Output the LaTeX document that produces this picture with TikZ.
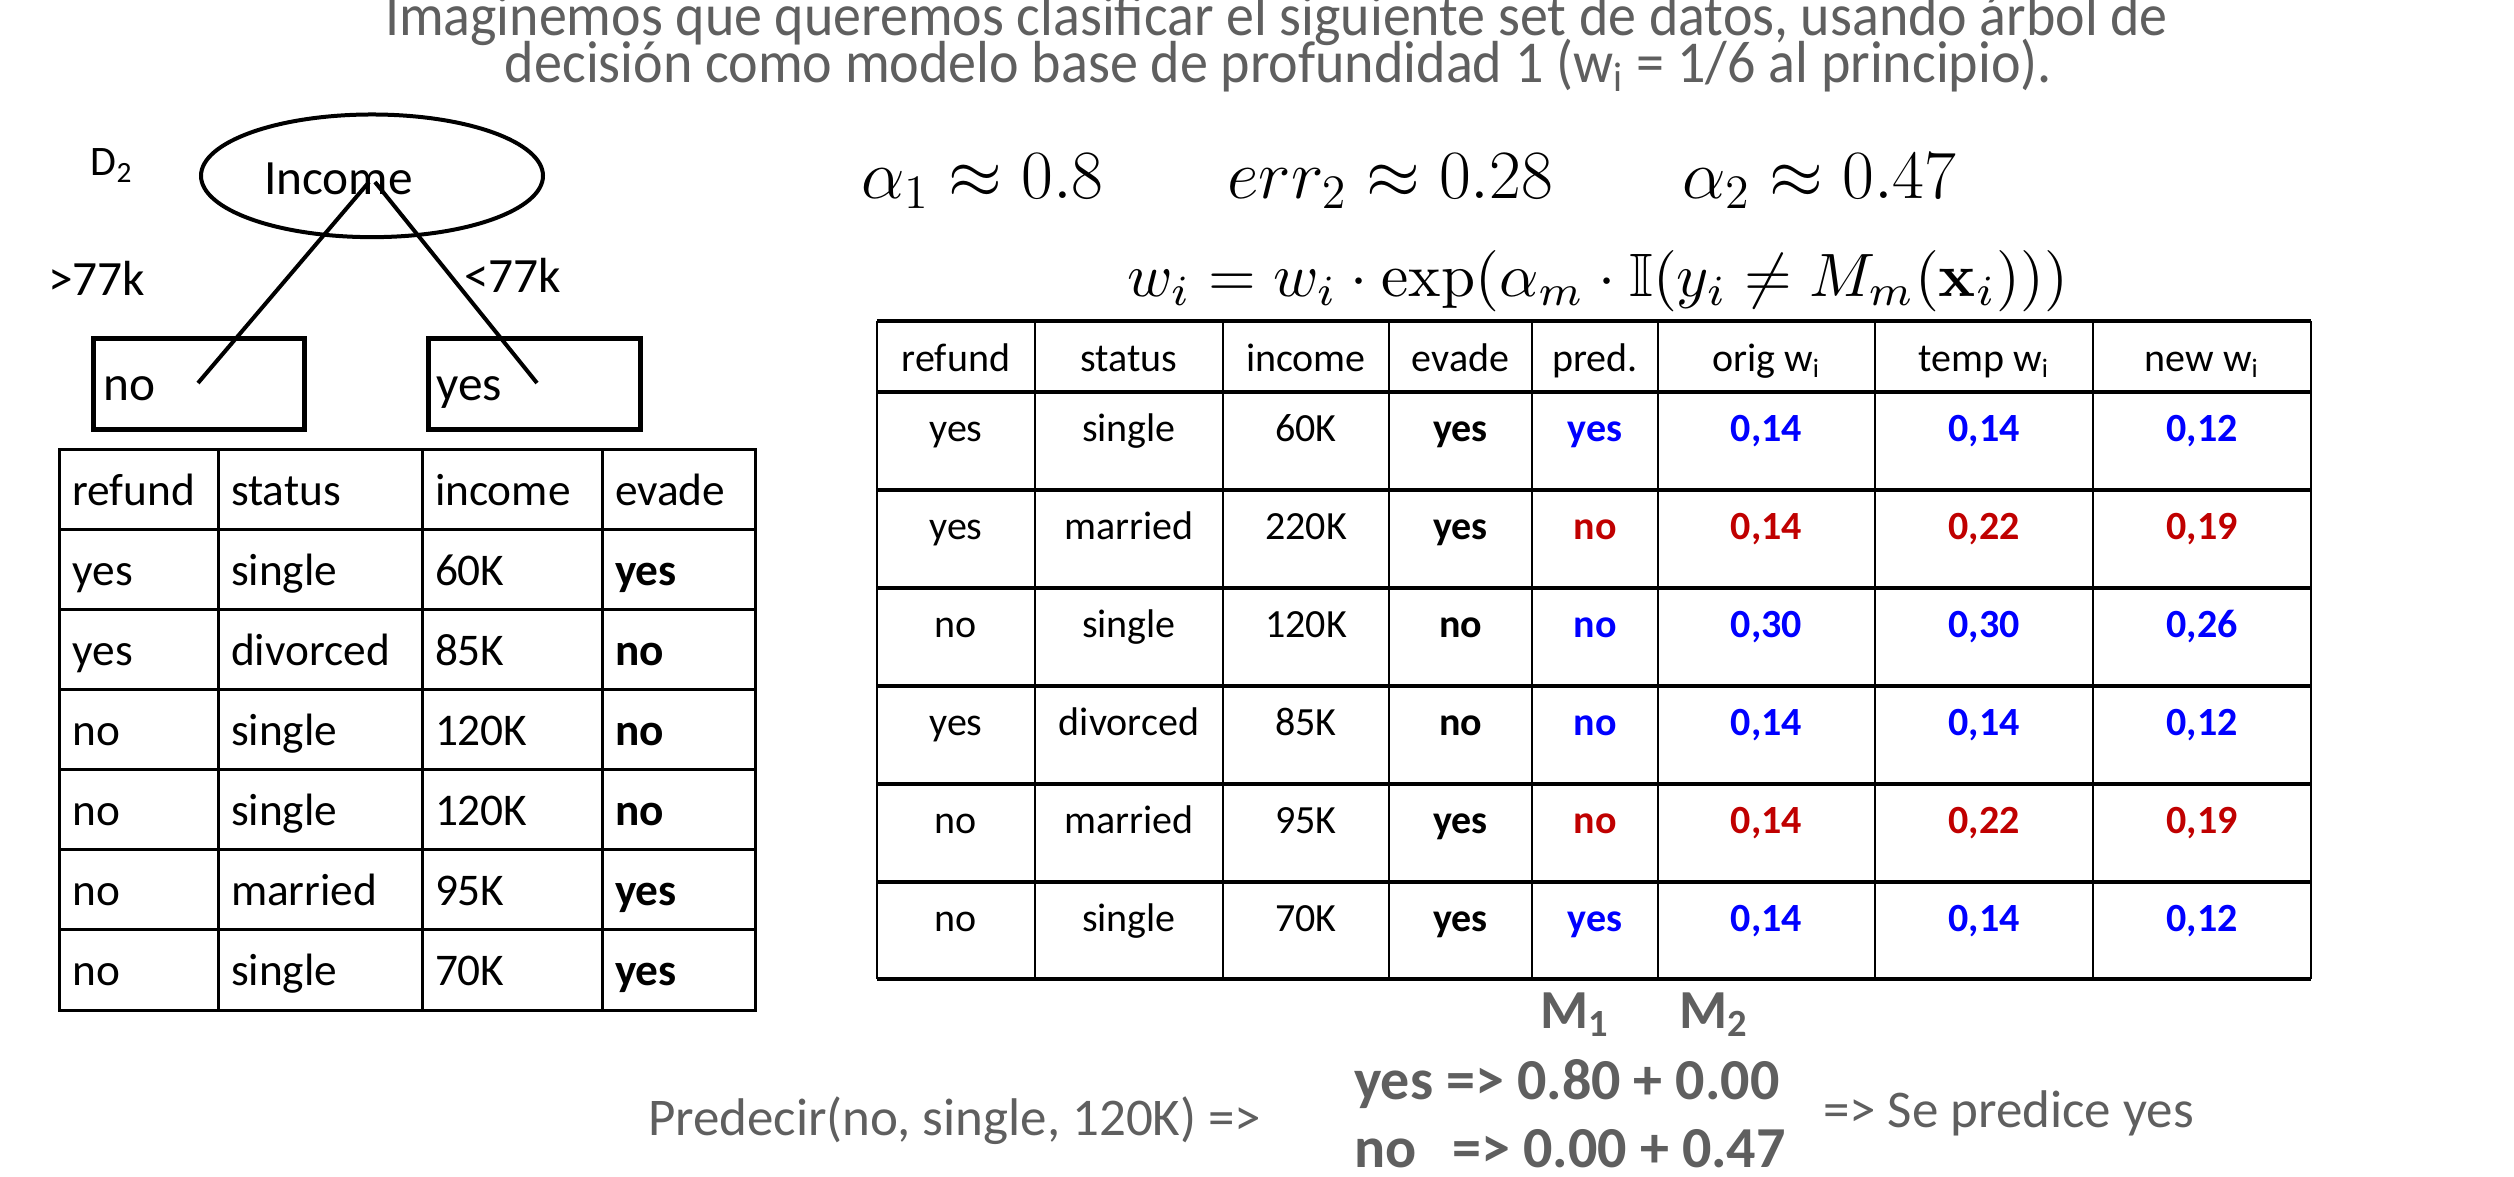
\RequirePackage{fix-cm}
\documentclass[tikz,border=0pt]{standalone}
\usepackage{amsmath,amssymb}
\usepackage[no-math]{fontspec}
\setmainfont{Carlito}
\usetikzlibrary{shapes.geometric}
\definecolor{txtgray}{RGB}{95,95,95}
\definecolor{wblue}{RGB}{0,0,255}
\definecolor{wred}{RGB}{192,0,0}
\newcommand\setfs[1]{\fontsize{#1}{#1}\selectfont}
\newcommand\bluebf[1]{\textcolor{wblue}{\textbf{#1}}}
\newcommand\redbf[1]{\textcolor{wred}{\textbf{#1}}}
\newcommand\wsub{w\textsubscript{i}}
% left table row: index, 4 cells
\newcommand\lrow[5]{%
  \pgfmathsetmacro\lrowy{505+80.14*#1}%
  \node[ltext] (L#1c1) at (72.5,\lrowy) {#2};
  \node[ltext] (L#1c2) at (231,\lrowy) {#3};
  \node[ltext] (L#1c3) at (435,\lrowy) {#4};
  \node[ltext] (L#1c4) at (615,\lrowy) {#5};
}
% right table row: index, 8 cells
\newcommand\rrow[9]{%
  \pgfmathsetmacro\rrowy{#1==0 ? 371 : 343.5+98*#1}%
  \node[rtext] (R#1c1) at (956,\rrowy) {#2};
  \node[rtext] (R#1c2) at (1129,\rrowy) {#3};
  \node[rtext] (R#1c3) at (1306,\rrowy) {#4};
  \node[rtext] (R#1c4) at (1460.5,\rrowy) {#5};
  \node[rtext] (R#1c5) at (1595,\rrowy) {#6};
  \node[rtext] (R#1c6) at (1766.5,\rrowy) {#7};
  \node[rtext] (R#1c7) at (1984,\rrowy) {#8};
  \node[rtext] (R#1c8) at (2202,\rrowy) {#9};
}
\begin{document}
\begin{tikzpicture}[x=0.3pt,y=-0.3pt,
  txt/.style={inner sep=0pt,outer sep=0pt},
  bw/.style={txt,anchor=base west},
  treefont/.style={font=\setfs{14.8}},
  branch/.style={draw=black,line width=1.2pt},
  leafbox/.style={draw=black,line width=1.5pt,rectangle,minimum height=27.3pt,inner sep=0pt},
  lgrid/.style={line width=0.9pt},
  rgridh/.style={line width=1.0pt},
  rgridv/.style={line width=0.7pt},
  ltext/.style={bw,font=\setfs{13.6}},
  rtext/.style={txt,anchor=base,font=\setfs{12}},
  titletext/.style={txt,anchor=base,text=txtgray,font=\setfs{17.8}},
  bottomtext/.style={bw,text=txtgray},
]
\fill[white] (0,0) rectangle (2514,1176);
\useasboundingbox (0,0) rectangle (2514,1176);

% ---------- title ----------
\node[titletext] (title1) at (1276.5,35.5) {\resizebox{534.9pt}{\height}{Imaginemos que queremos clasificar el siguiente set de datos, usando árbol de}};
\node[titletext] (title2) at (1278.5,82.5) {\resizebox{464.1pt}{\height}{decisión como modelo base de profundidad 1 (\wsub{} = 1/6 al principio).}};

% ---------- tree ----------
\node[bw,font=\setfs{12.6}] (dlabel) at (90.7,175.7) {D\textsubscript{2}};
\node[draw=black,ellipse,line width=1.2pt,minimum width=102.6pt,minimum height=36.8pt,inner sep=0pt] (root) at (372,175.8) {};
\node[bw,treefont] (incomeLbl) at (264,194) {Income};
\node[leafbox,minimum width=63.2pt] (leafNo) at (199,384) {};
\node[leafbox,minimum width=63.5pt] (leafYes) at (534.5,384) {};
\node[bw,treefont] (noLbl) at (103.6,400) {no};
\node[bw,treefont] (yesLbl) at (436.6,400) {yes};
\node[bw,treefont] (gtLbl) at (48,295) {>77k};
\node[bw,treefont] (ltLbl) at (464,292) {<77k};
\coordinate (apexL) at (369,182);
\coordinate (apexR) at (375,182);
\coordinate (noEnd) at (198,383);
\coordinate (yesEnd) at (537,383);
\draw[branch] (apexL) -- (noEnd);
\draw[branch] (apexR) -- (yesEnd);

% ---------- left table ----------
\draw[lgrid] (59,449) rectangle (755,1010);
\foreach \x in {218,422,602} \draw[lgrid] (\x,449) -- (\x,1010);
\foreach \k in {1,...,6} \draw[lgrid] (59,{449+\k*80.14}) -- (755,{449+\k*80.14});
\lrow{0}{refund}{status}{income}{evade}
\lrow{1}{yes}{single}{60K}{\textbf{yes}}
\lrow{2}{yes}{divorced}{85K}{\textbf{no}}
\lrow{3}{no}{single}{120K}{\textbf{no}}
\lrow{4}{no}{single}{120K}{\textbf{no}}
\lrow{5}{no}{married}{95K}{\textbf{yes}}
\lrow{6}{no}{single}{70K}{\textbf{yes}}

% ---------- formulas ----------
\node[bw,font=\setfs{20.74}] (alpha1) at (861,198.6) {$\alpha_1 \approx 0.8$};
\node[bw,font=\setfs{20.74}] (err2) at (1227.6,198.6) {$err_2 \approx 0.28$};
\node[bw,font=\setfs{20.74}] (alpha2) at (1682,198.6) {$\alpha_2 \approx 0.47$};
\node[bw] (update) at (1127,296) {\resizebox{282.3pt}{!}{$w_i = w_i \cdot \exp(\alpha_m \cdot \mathbb{I}(y_i \neq M_m(\mathbf{x}_i)))$}};

% ---------- right table ----------
\foreach \x in {877,2311} \draw[rgridv] (\x,321) -- (\x,979);
\foreach \x in {1035,1223,1389,1532,1658,1875,2093} \draw[rgridv] (\x,321) -- (\x,979);
\foreach \y in {321,392,490,588,686,784,882,979} \draw[rgridh] (877,\y) -- (2311,\y);
\rrow{0}{refund}{status}{income}{evade}{pred.}{orig \wsub}{temp \wsub}{new \wsub}
\rrow{1}{yes}{single}{60K}{\textbf{yes}}{\bluebf{yes}}{\bluebf{0,14}}{\bluebf{0,14}}{\bluebf{0,12}}
\rrow{2}{yes}{married}{220K}{\textbf{yes}}{\redbf{no}}{\redbf{0,14}}{\redbf{0,22}}{\redbf{0,19}}
\rrow{3}{no}{single}{120K}{\textbf{no}}{\bluebf{no}}{\bluebf{0,30}}{\bluebf{0,30}}{\bluebf{0,26}}
\rrow{4}{yes}{divorced}{85K}{\textbf{no}}{\bluebf{no}}{\bluebf{0,14}}{\bluebf{0,14}}{\bluebf{0,12}}
\rrow{5}{no}{married}{95K}{\textbf{yes}}{\redbf{no}}{\redbf{0,14}}{\redbf{0,22}}{\redbf{0,19}}
\rrow{6}{no}{single}{70K}{\textbf{yes}}{\bluebf{yes}}{\bluebf{0,14}}{\bluebf{0,14}}{\bluebf{0,12}}

% ---------- bottom ----------
\node[bottomtext,font=\setfs{16.5}\bfseries] (m1) at (1540,1028) {M\textsubscript{1}};
\node[bottomtext,font=\setfs{16.5}\bfseries] (m2) at (1679,1028) {M\textsubscript{2}};
\node[bottomtext,font=\setfs{17.4}\bfseries] (yesScore) at (1354,1099.6) {yes => 0.80 + 0.00};
\node[bottomtext,font=\setfs{17.4}\bfseries] (noScore) at (1354,1167) {\makebox[29.5pt][l]{no}=> 0.00 + 0.47};
\node[bottomtext,font=\setfs{15.9}] (predict) at (648,1135) {Predecir(no, single, 120K) =>};
\node[bottomtext,font=\setfs{15.9}] (result) at (1823,1127) {=> Se predice yes};
\end{tikzpicture}
\end{document}
